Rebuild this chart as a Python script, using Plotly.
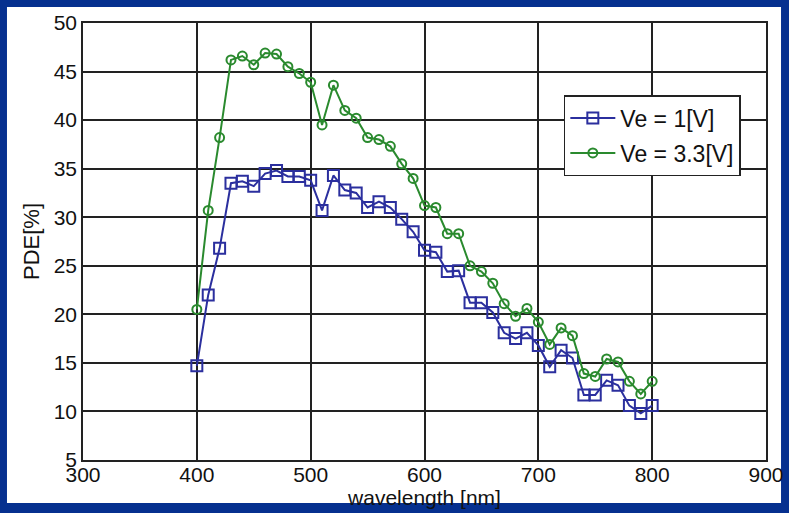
import plotly.graph_objects as go

# Wavelength sweep (nm) and photon detection efficiency (%) at two excess voltages
wavelength = [400, 410, 420, 430, 440, 450, 460, 470, 480, 490, 500,
              510, 520, 530, 540, 550, 560, 570, 580, 590, 600,
              610, 620, 630, 640, 650, 660, 670, 680, 690, 700,
              710, 720, 730, 740, 750, 760, 770, 780, 790, 800]

pde_ve_1 = [14.7, 22.0, 26.8, 33.5, 33.7, 33.2, 34.5, 34.8, 34.2, 34.2, 33.8,
            30.7, 34.3, 32.8, 32.5, 31.0, 31.6, 31.0, 29.8, 28.5, 26.6,
            26.4, 24.4, 24.5, 21.2, 21.2, 20.2, 18.1, 17.5, 18.1, 16.8,
            14.6, 16.3, 15.5, 11.7, 11.7, 13.2, 12.7, 10.6, 9.8, 10.6]

pde_ve_33 = [20.5, 30.7, 38.2, 46.2, 46.6, 45.7, 46.9, 46.8, 45.5, 44.8, 43.9,
             39.5, 43.6, 41.0, 40.2, 38.2, 38.0, 37.3, 35.5, 34.0, 31.2,
             31.0, 28.3, 28.3, 25.0, 24.4, 23.2, 21.1, 19.8, 20.6, 19.2,
             16.9, 18.6, 17.8, 13.9, 13.6, 15.4, 15.1, 13.1, 11.8, 13.1]

series_names = ["Ve = 1[V]", "Ve = 3.3[V]"]

BLUE = "#2b2f9e"
GREEN = "#2a8a2e"
FONT = "Liberation Sans, Arial, sans-serif"

fig = go.Figure()
fig.add_trace(go.Scatter(
    x=wavelength, y=pde_ve_1, name=series_names[0], mode="lines+markers",
    legendgroup="a",
    line=dict(color=BLUE, width=2),
    marker=dict(symbol="square-open", size=11, color=BLUE, line=dict(width=2)),
))
fig.add_trace(go.Scatter(
    x=wavelength, y=pde_ve_33, name=series_names[1], mode="lines+markers",
    legendgroup="b",
    line=dict(color=GREEN, width=2),
    marker=dict(symbol="circle-open", size=9, color=GREEN, line=dict(width=2)),
))

# White panel behind the axes, on a dark blue page
fig.add_shape(type="rect", xref="paper", yref="paper",
              x0=-0.1113, x1=1.022, y0=-0.0984, y1=1.0366,
              fillcolor="white", line=dict(width=0), layer="below")

axis_common = dict(
    showgrid=True, gridcolor="#222222", gridwidth=1.5,
    showline=True, linecolor="#222222", linewidth=1.5, mirror=True,
    ticks="", zeroline=False, automargin=False,
    tickfont=dict(family=FONT, size=21, color="#111111"),
)

fig.update_layout(
    width=789, height=513,
    margin=dict(l=83, r=23, t=23, b=53),
    paper_bgcolor="#06308f",
    plot_bgcolor="white",
    font=dict(family=FONT, color="#111111"),
    xaxis=dict(range=[300, 900], dtick=100, tick0=300, ticklabelstandoff=-5,
               title=dict(text="wavelength [nm]", font=dict(size=21), standoff=0),
               **axis_common),
    yaxis=dict(range=[5, 50], dtick=5, tick0=5,
               title=dict(text="PDE[%]", font=dict(size=22), standoff=8),
               **axis_common),
    legend=dict(x=0.704, y=0.835, xanchor="left", yanchor="top",
                bgcolor="white", bordercolor="#222222", borderwidth=1.5,
                font=dict(family=FONT, size=23, color="#111111"),
                itemwidth=45, tracegroupgap=2),
    showlegend=True,
)

fig.write_html("out.html")
